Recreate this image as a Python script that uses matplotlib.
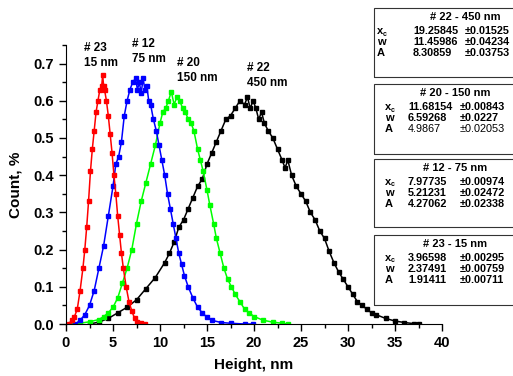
import numpy as np
import matplotlib
matplotlib.use("Agg")
import matplotlib.pyplot as plt
from matplotlib.patches import Rectangle
from matplotlib.ticker import MultipleLocator, FormatStrFormatter

plt.rcParams['font.family'] = ['Liberation Sans', 'DejaVu Sans']
plt.rcParams['font.weight'] = 'bold'

# sample #23 - 15 nm (red)
x23 = [0.3, 0.6, 0.9, 1.2, 1.5, 1.8, 2.0, 2.2, 2.4, 2.6, 2.8, 3.0, 3.2, 3.4, 3.6,
       3.8, 3.9, 4.0, 4.1, 4.3, 4.5, 4.7, 4.9, 5.1, 5.3, 5.5, 5.7, 5.9, 6.1, 6.4,
       6.7, 7.0, 7.3, 7.6, 8.0, 8.4]
y23 = [0.0, 0.01, 0.02, 0.04, 0.09, 0.15, 0.2, 0.26, 0.33, 0.41, 0.47, 0.52, 0.57,
       0.6, 0.63, 0.64, 0.67, 0.64, 0.63, 0.6, 0.56, 0.51, 0.46, 0.4, 0.35, 0.29,
       0.24, 0.19, 0.15, 0.1, 0.06, 0.035, 0.015, 0.006, 0.002, 0.0]

# sample #12 - 75 nm (blue)
x12 = [1.0, 1.5, 2.0, 2.5, 3.0, 3.5, 4.0, 4.5, 5.0, 5.3, 5.6, 5.9, 6.2, 6.5, 6.8,
       7.1, 7.4, 7.6, 7.8, 8.0, 8.2, 8.4, 8.6, 8.8, 9.0, 9.3, 9.6, 9.9, 10.2, 10.5,
       10.8, 11.1, 11.4, 11.7, 12.0, 12.3, 12.6, 13.0, 13.5, 14.0, 14.5, 15.0,
       15.5, 16.5, 17.5, 19.0, 19.9]
y12 = [0.0, 0.01, 0.025, 0.05, 0.09, 0.15, 0.21, 0.29, 0.37, 0.43, 0.45, 0.49,
       0.56, 0.6, 0.63, 0.65, 0.66, 0.63, 0.65, 0.62, 0.66, 0.63, 0.64, 0.6, 0.59,
       0.55, 0.52, 0.48, 0.44, 0.4, 0.35, 0.31, 0.27, 0.23, 0.19, 0.16, 0.13, 0.1,
       0.07, 0.045, 0.03, 0.018, 0.01, 0.004, 0.002, 0.0, 0.0]

# sample #20 - 150 nm (green)
x20 = [0.5, 1.5, 2.5, 3.5, 4.0, 4.5, 5.0, 5.5, 6.0, 6.5, 7.0, 7.5, 8.0, 8.5, 9.0,
       9.5, 10.0, 10.3, 10.6, 10.9, 11.2, 11.5, 11.8, 12.1, 12.4, 12.7, 13.0,
       13.3, 13.6, 14.0, 14.3, 14.6, 15.0, 15.3, 15.7, 16.0, 16.4, 16.8, 17.2,
       17.6, 18.0, 18.5, 19.0, 19.5, 20.0, 21.0, 22.0, 23.0, 23.6]
y20 = [0.0, 0.002, 0.006, 0.012, 0.02, 0.03, 0.045, 0.07, 0.11, 0.15, 0.2, 0.27,
       0.33, 0.38, 0.43, 0.48, 0.54, 0.57, 0.58, 0.6, 0.625, 0.59, 0.61, 0.6, 0.58,
       0.57, 0.55, 0.54, 0.52, 0.47, 0.44, 0.41, 0.36, 0.32, 0.27, 0.23, 0.19,
       0.15, 0.12, 0.1, 0.08, 0.06, 0.04, 0.03, 0.02, 0.01, 0.005, 0.002, 0.0]

# sample #22 - 450 nm (black)
x22 = [2.5, 3.5, 4.5, 5.5, 6.5, 7.5, 8.5, 9.5, 10.5, 11.0, 11.5, 12.0, 12.5, 13.0,
       13.5, 14.0, 14.5, 15.0, 15.5, 16.0, 16.5, 17.0, 17.5, 18.0, 18.5, 19.0,
       19.3, 19.6, 19.9, 20.2, 20.5, 20.8, 21.1, 21.5, 22.0, 22.5, 23.0, 23.3,
       23.6, 24.0, 24.5, 25.0, 25.5, 26.0, 26.5, 27.0, 27.5, 28.0, 28.5, 29.0,
       29.5, 30.0, 30.5, 31.0, 31.5, 32.0, 32.5, 33.0, 34.0, 35.0, 36.0, 37.0, 37.6]
y22 = [0.0, 0.005, 0.015, 0.03, 0.045, 0.065, 0.095, 0.125, 0.165, 0.19, 0.22,
       0.26, 0.28, 0.31, 0.34, 0.37, 0.39, 0.43, 0.46, 0.49, 0.52, 0.55, 0.56,
       0.58, 0.6, 0.59, 0.61, 0.58, 0.6, 0.58, 0.55, 0.57, 0.54, 0.52, 0.5, 0.47,
       0.44, 0.42, 0.44, 0.4, 0.37, 0.35, 0.33, 0.3, 0.28, 0.25, 0.23, 0.195,
       0.165, 0.14, 0.12, 0.1, 0.08, 0.06, 0.05, 0.04, 0.03, 0.025, 0.015, 0.008,
       0.004, 0.001, 0.0]

labels = ["# 23\n15 nm", "# 12\n75 nm", "# 20\n150 nm", "# 22\n450 nm"]

# fit results for the boxes
box_titles = ["# 22 - 450 nm", "# 20 - 150 nm", "# 12 - 75 nm", "# 23 - 15 nm"]
box_xc = [("19.25845", "±0.01525"), ("11.68154", "±0.00843"),
          ("7.97735", "±0.00974"), ("3.96598", "±0.00295")]
box_w = [("11.45986", "±0.04234"), ("6.59268", "±0.0227"),
         ("5.21231", "±0.02472"), ("2.37491", "±0.00759")]
box_A = [("8.30859", "±0.03753"), ("4.9867", "±0.02053"),
         ("4.27062", "±0.02338"), ("1.91411", "±0.00711")]

W, H = 513, 376
fig = plt.figure(figsize=(W / 100, H / 100), dpi=100)
ax = fig.add_axes([66 / W, 1 - 324 / H, 376 / W, 279 / H])

def fx(px):
    return px / W

def fy(py):
    return 1 - py / H

for xs, ys, col in [(x22, y22, 'black'), (x20, y20, '#00ff00'),
                    (x12, y12, '#0000ff'), (x23, y23, '#ff0000')]:
    ax.plot(xs, ys, '-s', color=col, lw=1.1, ms=3.2, mec=col, mfc=col)

ax.set_xlim(0, 40)
ax.set_ylim(0, 0.75)
ax.xaxis.set_major_locator(MultipleLocator(5))
ax.xaxis.set_minor_locator(MultipleLocator(2.5))
ax.yaxis.set_major_locator(MultipleLocator(0.1))
ax.yaxis.set_minor_locator(MultipleLocator(0.05))
ax.yaxis.set_major_formatter(FormatStrFormatter('%.1f'))
ax.spines['top'].set_visible(False)
ax.spines['right'].set_visible(False)
ax.tick_params(which='major', direction='out', length=5, width=1, labelsize=10.5)
ax.tick_params(which='minor', direction='out', length=3, width=1)
for lab in ax.get_xticklabels() + ax.get_yticklabels():
    lab.set_fontweight('bold')
ax.set_xlabel("Height, nm", fontsize=11, fontweight='bold', labelpad=6)
ax.set_ylabel("Count, %", fontsize=11, fontweight='bold', labelpad=8)

# peak labels
for lab, (px, py) in zip(labels, [(84, 42), (132, 38), (177, 57), (247, 62)]):
    fig.text(fx(px), fy(py), lab, fontsize=8.5, fontweight='bold',
             ha='left', va='top', linespacing=1.35)

# fit parameter boxes
tops = [8, 84, 159, 235]
heights = [69, 70, 68, 70]
cols = [(377, 413, 465, 465), (385, 408, 460, 455),
        (385, 408, 460, 455), (385, 408, 460, 455)]
for i in range(4):
    top = tops[i]
    fig.patches.append(Rectangle((fx(374), fy(top + heights[i])), fx(150),
                                 heights[i] / H, transform=fig.transFigure,
                                 fill=False, ec='#333333', lw=0.8))
    cl, cv, ce, ct = cols[i]
    fig.text(fx(ct), fy(top + 9), box_titles[i], fontsize=8,
             fontweight='bold', ha='center', va='center')
    rows = [("x", box_xc[i]), ("w", box_w[i]), ("A", box_A[i])]
    for j, (name, (val, err)) in enumerate(rows):
        yy = top + 23 + 11 * j
        wt = 'normal' if (i == 1 and name == "A") else 'bold'
        fig.text(fx(cl), fy(yy), name, fontsize=8, fontweight='bold',
                 ha='left', va='center')
        if name == "x":
            fig.text(fx(cl + 5.5), fy(yy + 3), "c", fontsize=5,
                     fontweight='bold', ha='left', va='center')
        fig.text(fx(cv), fy(yy), val, fontsize=7.8, fontweight=wt,
                 ha='left', va='center')
        fig.text(fx(ce), fy(yy), err, fontsize=7.8, fontweight=wt,
                 ha='left', va='center')

fig.savefig("out.png", dpi=100)
